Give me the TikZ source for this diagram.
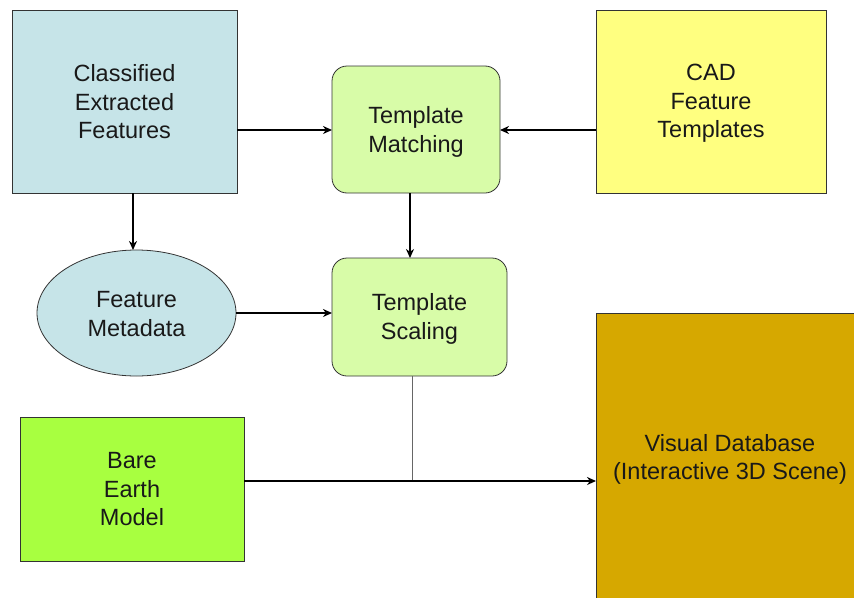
\documentclass[tikz,border=0pt]{standalone}
\usepackage{fontspec}
\setmainfont{Liberation Sans}
\usetikzlibrary{shapes.geometric,arrows.meta}
\definecolor{cblue}{HTML}{C6E4E8}
\definecolor{cgreen}{HTML}{D8FCA8}
\definecolor{cyel}{HTML}{FFFF80}
\definecolor{clime}{HTML}{A8FF40}
\definecolor{cgold}{HTML}{D6A800}
\begin{document}
\begin{tikzpicture}[x=1pt,y=-1pt,
  lbl/.style={font=\fontsize{23.5}{28.5}\selectfont, align=center, text=black!90},
  sqbox/.style={draw=black!80, line width=0.8pt},
  rbox/.style={draw=black!80, line width=0.8pt, rounded corners=15pt, fill=cgreen},
  conn/.style={line width=1.8pt, -{Stealth[length=9pt,width=8pt]}}]
\useasboundingbox (0,0) rectangle (854,597);
% boxes
\draw[sqbox, fill=cblue] (12,10) rectangle (237,193);
\node[lbl] (cef) at (124.5,102) {Classified\\Extracted\\Features};
\draw[rbox] (332,66) rectangle (500,193);
\node[lbl] (tm) at (416,132) {Template\\Matching};
\draw[sqbox, fill=cyel] (596,10) rectangle (826,193);
\node[lbl] (cad) at (711,103.5) {CAD\\Feature\\Templates};
\node[ellipse, draw=black!80, line width=0.8pt, fill=cblue, minimum width=199pt, minimum height=126pt, inner sep=0pt] (fm) at (136.5,313) {};
\node[lbl] at (136.5,314) {Feature\\Metadata};
\draw[rbox] (332,258) rectangle (507,376);
\node[lbl] (ts) at (419.5,319) {Template\\Scaling};
\draw[sqbox, fill=clime] (20,417) rectangle (244,561);
\node[lbl] (bem) at (132,489.5) {Bare\\Earth\\Model};
\draw[sqbox, fill=cgold] (596,313) rectangle (860,602);
\node[lbl] (vdb) at (730,459.5) {Visual Database\\(Interactive 3D Scene)};
% anchor coordinates
\coordinate (cefR) at (237,130);
\coordinate (tmL) at (332,130);
\coordinate (cadL) at (596,130);
\coordinate (tmR) at (500,130);
\coordinate (cefB) at (133,193);
\coordinate (fmT) at (133,250);
\coordinate (tmB) at (410,193);
\coordinate (tsT) at (410,258);
\coordinate (fmR) at (236,313);
\coordinate (tsL) at (332,313);
\coordinate (bemR) at (244,481);
\coordinate (vdbL) at (596,481);
\coordinate (tsB) at (412,376);
\coordinate (join) at (412,481);
% connectors
\draw[conn] (cefR) -- (tmL);
\draw[conn] (cadL) -- (tmR);
\draw[conn] (cefB) -- (fmT);
\draw[conn] (tmB) -- (tsT);
\draw[conn] (fmR) -- (tsL);
\draw[black!60, line width=1pt] (tsB) -- (join);
\draw[conn] (bemR) -- (vdbL);
\end{tikzpicture}
\end{document}
